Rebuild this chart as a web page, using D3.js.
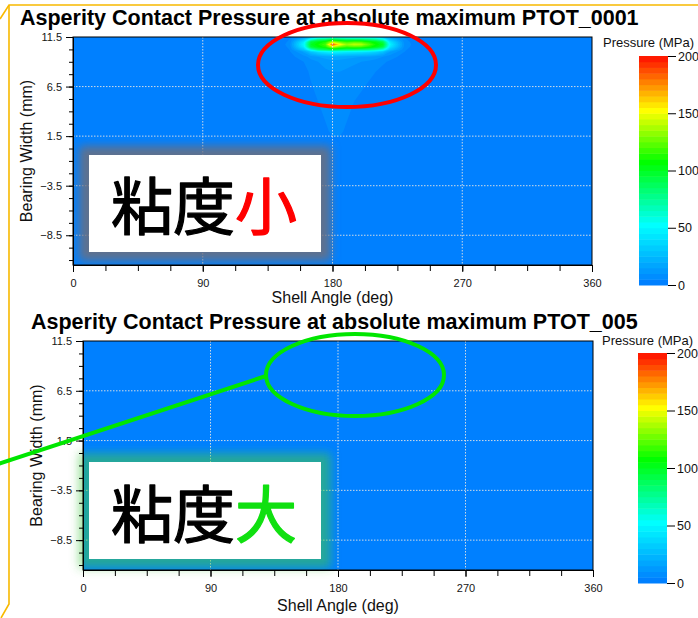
<!DOCTYPE html>
<html>
<head>
<meta charset="utf-8">
<script src="https://cdn.jsdelivr.net/npm/d3@7"></script>
<style>
  body { margin: 0; background: #fff; }
  svg { display: block; font-family: "Liberation Sans", Arial, sans-serif; }
</style>
</head>
<body>
<svg id="chart" width="698" height="618"></svg>
<script>
// ---- data ----
const titles = [
  "Asperity Contact Pressure at absolute maximum PTOT_0001",
  "Asperity Contact Pressure at absolute maximum PTOT_005"
];
const xTicks = [0, 90, 180, 270, 360];
const yTicks = [11.5, 6.5, 1.5, -3.5, -8.5];
const cbTicks = [0, 50, 100, 150, 200];
const cbTitle = "Pressure (MPa)";
const xTitle = "Shell Angle (deg)";
const yTitle = "Bearing Width (mm)";

// colour map (MPa -> colour), banded every 5 MPa
const cmapStops = [0, 50, 105, 150, 200];
const cmapColors = ["#0080ff", "#00ffff", "#00ff00", "#ffff00", "#ff0000"];

// pressure grid of the low viscosity case (deg x mm)
const gridAngles = [140, 150, 160, 165, 170, 175, 180, 185, 190, 195, 200, 205, 210, 215, 220, 230, 240];
const gridWidths = [11.5, 11.25, 11.0, 10.75, 10.5, 10.25, 10.0, 9.5, 9.0, 8.0, 7.0, 6.0, 5.0, 4.0, 3.0, 2.0, 1.0, 0.0];
const pressureLow = [
  [0, 3, 12, 25, 35, 38, 45, 42, 40, 40, 40, 38, 34, 25, 12, 4, 0],
  [0, 5, 30, 60, 80, 85, 95, 88, 85, 85, 85, 80, 75, 60, 28, 6, 0],
  [0, 6, 45, 95, 105, 112, 140, 125, 118, 122, 120, 112, 104, 92, 42, 8, 0],
  [0, 7, 50, 100, 110, 120, 190, 155, 135, 142, 140, 125, 110, 100, 48, 9, 0],
  [0, 6, 45, 95, 105, 112, 140, 125, 118, 122, 120, 112, 104, 92, 42, 8, 0],
  [0, 5, 32, 65, 85, 90, 98, 92, 88, 88, 86, 82, 75, 62, 30, 6, 0],
  [0, 4, 16, 30, 40, 45, 50, 48, 45, 44, 42, 40, 36, 28, 15, 5, 0],
  [0, 3, 8, 12, 15, 17, 19, 18, 17, 16, 15, 14, 12, 10, 7, 3, 0],
  [0, 2, 5, 8, 10, 12, 13, 13, 12, 11, 10, 9, 8, 6, 4, 2, 0],
  [0, 1, 3, 6, 8, 9, 10, 10, 9, 8, 7, 6, 5, 3, 2, 1, 0],
  [0, 0, 2, 5, 7, 8, 9, 9, 8, 7, 6, 5, 3, 2, 1, 0, 0],
  [0, 0, 1, 4, 6, 7, 8, 8, 7, 6, 5, 3, 2, 1, 0, 0, 0],
  [0, 0, 1, 3, 5, 7, 8, 8, 7, 5, 4, 2, 1, 0, 0, 0, 0],
  [0, 0, 0, 2, 4, 6, 7, 7, 6, 4, 3, 1, 0, 0, 0, 0, 0],
  [0, 0, 0, 1, 3, 5, 6, 6, 5, 3, 1, 0, 0, 0, 0, 0, 0],
  [0, 0, 0, 0, 2, 4, 6, 6, 4, 2, 0, 0, 0, 0, 0, 0, 0],
  [0, 0, 0, 0, 1, 2, 4, 4, 2, 1, 0, 0, 0, 0, 0, 0, 0],
  [0, 0, 0, 0, 0, 0, 0, 0, 0, 0, 0, 0, 0, 0, 0, 0, 0]
];
// high viscosity case: no asperity contact anywhere (0 MPa)
const pressureHigh = null;

// ---- layout ----
const panels = [
  { id: 0, title: titles[0], values: pressureLow, left: 73, right: 592, top: 37, bottom: 265,
    titleX: 20, titleY: 25, xTitleY: 303, yTitleX: 32,
    cb: { x: 639, w: 29, top: 56, bottom: 285, labelX: 603, labelY: 47 },
    note: { x: 89, y: 155, w: 232, h: 97, ty: 230, word: "粘度", accent: "小", accentColor: "#ff0000",
            glow: "rgba(112,110,122,0.85)", clip: true } },
  { id: 1, title: titles[1], values: pressureHigh, left: 83, right: 593, top: 341, bottom: 570,
    titleX: 31, titleY: 329, xTitleY: 611, yTitleX: 42,
    cb: { x: 638, w: 29, top: 353, bottom: 583, labelX: 602, labelY: 345 },
    note: { x: 89, y: 462, w: 232, h: 97, ty: 538, word: "粘度", accent: "大", accentColor: "#10e010",
            glow: "rgba(70,200,70,0.55)", clip: false } }
];

const svg = d3.select("#chart");
const defs = svg.append("defs");
defs.append("filter").attr("id", "glow")
  .attr("x", "-20%").attr("y", "-20%").attr("width", "140%").attr("height", "140%")
  .append("feGaussianBlur").attr("stdDeviation", 5);

const color = d3.scaleLinear().domain(cmapStops).range(cmapColors).interpolate(d3.interpolateRgb);
const bands = d3.range(0, 200, 5);

// orange callout frame behind the charts
const frame = svg.append("g").attr("fill", "none").attr("stroke", "#f8b900").attr("stroke-width", 1.6);
frame.append("path").attr("d", "M0,19 L9,5 L698,5");
frame.append("path").attr("d", "M9,5 L9,604 L1,618");

panels.forEach(p => drawPanel(p));

function drawPanel(p) {
  const g = svg.append("g");
  const x = d3.scaleLinear().domain([0, 360]).range([p.left, p.right]);
  const y = d3.scaleLinear().domain([11.5, -11.5]).range([p.top, p.bottom]);

  defs.append("clipPath").attr("id", "plot" + p.id)
    .append("rect").attr("x", p.left).attr("y", p.top)
    .attr("width", p.right - p.left).attr("height", p.bottom - p.top);

  const plot = g.append("g").attr("clip-path", `url(#plot${p.id})`);
  plot.append("rect")
    .attr("x", p.left).attr("y", p.top)
    .attr("width", p.right - p.left).attr("height", p.bottom - p.top)
    .attr("fill", color(0));

  if (p.values) {
    const n = gridAngles.length, m = gridWidths.length;
    // grid index -> data coordinate (grid is not evenly spaced)
    const ai = d3.scaleLinear().domain(d3.range(n)).range(gridAngles).clamp(true);
    const wi = d3.scaleLinear().domain(d3.range(m)).range(gridWidths).clamp(true);
    const contours = d3.contours().size([n, m]).thresholds(bands.slice(1))(p.values.flat());
    const proj = d3.geoTransform({
      point: function(px, py) { this.stream.point(x(ai(px - 0.5)), y(wi(py - 0.5))); }
    });
    plot.selectAll("path.band").data(contours).join("path")
      .attr("class", "band")
      .attr("d", d3.geoPath(proj))
      .attr("fill", d => color(d.value));
  }

  // dotted grid
  const grid = g.append("g").attr("stroke", "#e4e4e4").attr("stroke-width", 1)
    .attr("stroke-dasharray", "1.5,1.5").attr("opacity", 0.9);
  grid.selectAll("line.v").data(xTicks.slice(1, -1)).join("line")
    .attr("x1", d => x(d)).attr("x2", d => x(d)).attr("y1", p.top).attr("y2", p.bottom);
  grid.selectAll("line.h").data(yTicks.slice(1)).join("line")
    .attr("x1", p.left).attr("x2", p.right).attr("y1", d => y(d)).attr("y2", d => y(d));

  // note box with glow
  const nb = p.note;
  const glow = g.append("g");
  if (nb.clip) glow.attr("clip-path", `url(#plot${p.id})`);
  glow.append("rect")
    .attr("x", nb.x - 10).attr("y", nb.y - 9).attr("width", nb.w + 20).attr("height", nb.h + 18)
    .attr("fill", nb.glow).attr("filter", "url(#glow)");
  g.append("rect").attr("x", nb.x).attr("y", nb.y).attr("width", nb.w).attr("height", nb.h).attr("fill", "#fff");
  const t = g.append("text")
    .attr("x", nb.x + nb.w / 2 - 1).attr("y", nb.ty)
    .attr("text-anchor", "middle")
    .style("font-family", '"Noto Sans CJK JP", "Noto Sans CJK SC", sans-serif')
    .style("font-size", "62px")
    .attr("stroke-width", 1.3).attr("stroke-linejoin", "round");
  t.append("tspan").attr("fill", "#000").attr("stroke", "#000").text(nb.word);
  t.append("tspan").attr("fill", nb.accentColor).attr("stroke", nb.accentColor).text(nb.accent);

  // plot frame
  g.append("rect")
    .attr("x", p.left).attr("y", p.top)
    .attr("width", p.right - p.left).attr("height", p.bottom - p.top)
    .attr("fill", "none").attr("stroke", "#000").attr("stroke-width", 1);

  // axes: minor ticks then labelled major ticks
  const xMinor = d3.range(0, 361, 22.5);
  const yMinor = d3.range(0, 19).map(i => 11.5 - 1.25 * i);
  g.append("g").attr("transform", `translate(0,${p.bottom})`)
    .call(d3.axisBottom(x).tickValues(xMinor).tickFormat("").tickSize(6).tickSizeOuter(0));
  g.append("g").attr("transform", `translate(${p.left},0)`)
    .call(d3.axisLeft(y).tickValues(yMinor).tickFormat("").tickSize(4).tickSizeOuter(0));
  g.append("g").attr("transform", `translate(0,${p.bottom})`)
    .call(d3.axisBottom(x).tickValues(xTicks).tickSize(7).tickSizeOuter(0).tickPadding(7));
  g.append("g").attr("transform", `translate(${p.left},0)`)
    .call(d3.axisLeft(y).tickValues(yTicks).tickFormat(d3.format(".1f")).tickSize(7).tickSizeOuter(0).tickPadding(4));
  g.selectAll(".tick text").style("font-size", "11px").style("font-family", '"Liberation Sans", Arial, sans-serif')
    .attr("fill", "#151515");
  g.selectAll(".domain, .tick line").attr("stroke", "#000");

  // titles
  g.append("text").attr("x", p.titleX).attr("y", p.titleY)
    .style("font-size", "21.5px").style("font-weight", "bold").attr("fill", "#000")
    .text(p.title);
  g.append("text").attr("x", (p.left + p.right) / 2).attr("y", p.xTitleY)
    .attr("text-anchor", "middle").style("font-size", "16px").attr("fill", "#111")
    .text(xTitle);
  g.append("text")
    .attr("transform", `translate(${p.yTitleX},${(p.top + p.bottom) / 2}) rotate(-90)`)
    .attr("text-anchor", "middle").style("font-size", "16px").attr("fill", "#111")
    .text(yTitle);

  // colour bar
  const cb = p.cb;
  const cy = d3.scaleLinear().domain([0, 200]).range([cb.bottom, cb.top]);
  const bar = g.append("g");
  bar.selectAll("rect").data(bands).join("rect")
    .attr("x", cb.x).attr("width", cb.w)
    .attr("y", d => cy(d + 5)).attr("height", d => cy(d) - cy(d + 5) + 0.5)
    .attr("fill", d => color(d));
  g.append("g").attr("transform", `translate(${cb.x + cb.w},0)`)
    .call(d3.axisRight(cy).tickValues(cbTicks).tickSize(8).tickPadding(2))
    .call(a => a.select(".domain").remove())
    .call(a => a.selectAll("text").style("font-size", "12.5px").attr("fill", "#111"))
    .call(a => a.selectAll("line").attr("stroke", "#000"));
  g.append("text").attr("x", cb.labelX).attr("y", cb.labelY)
    .style("font-size", "13px").attr("fill", "#111").text(cbTitle);
}

// annotations on top
const ann = svg.append("g").attr("fill", "none").attr("stroke-width", 4);
ann.append("ellipse").attr("cx", 347).attr("cy", 65).attr("rx", 89).attr("ry", 42).attr("stroke", "#f00");
ann.append("ellipse").attr("cx", 355).attr("cy", 375).attr("rx", 89).attr("ry", 41).attr("stroke", "#00e600");
ann.append("line").attr("x1", -2).attr("y1", 464).attr("x2", 266).attr("y2", 376).attr("stroke", "#00e600");
</script>
</body>
</html>
